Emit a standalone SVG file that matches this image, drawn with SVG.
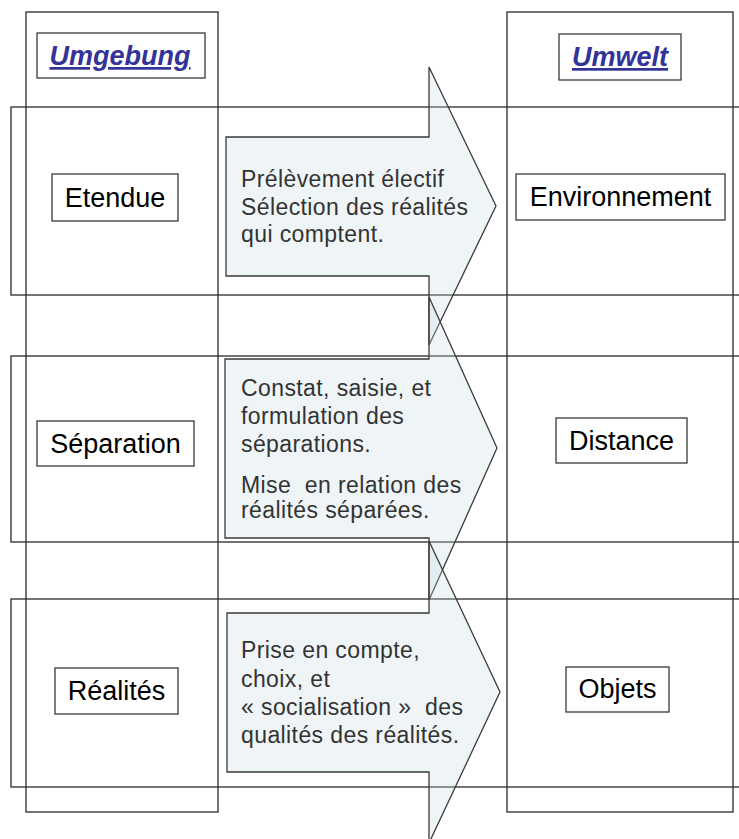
<svg xmlns="http://www.w3.org/2000/svg" width="739" height="839" viewBox="0 0 739 839">
<style>
.grid{fill:none;stroke:#2a2a2a;stroke-width:1.3}
.arrow{fill:#c4dae4;fill-opacity:0.28;stroke:#3a3a3a;stroke-width:1.3}
.box{fill:#fff;stroke:#3a3a3a;stroke-width:1.3}
.lbl{font-family:"Liberation Sans",Arial,sans-serif;font-size:27px;fill:#000;text-anchor:middle}
.head{font-family:"Liberation Sans",Arial,sans-serif;font-size:27px;font-weight:bold;font-style:italic;fill:#333399;text-anchor:middle;text-decoration:underline}
.txt{font-family:"Liberation Sans",Arial,sans-serif;font-size:23px;fill:#333;letter-spacing:0.4px;white-space:pre}
</style>
<rect width="739" height="839" fill="#fff"/>
<g id="grid">
  <rect class="grid" x="26" y="12" width="192" height="800"/>
  <rect class="grid" x="507" y="12" width="226" height="800"/>
  <rect class="grid" x="11" y="107" width="740" height="188"/>
  <rect class="grid" x="11" y="356" width="740" height="186"/>
  <rect class="grid" x="11" y="599" width="740" height="188"/>
</g>
<g id="connectors">
  <g id="arrow1">
    <path class="arrow" d="M226,137 H429 V67 L496,206 L429,345 V276 H226 Z"/>
    <text class="txt"><tspan x="241" y="187">Prélèvement électif</tspan><tspan x="241" y="215">Sélection des réalités</tspan><tspan x="241" y="242">qui comptent.</tspan></text>
  </g>
  <g id="arrow2">
    <path class="arrow" d="M225,359 H429 V297 L497,448 L429,600 V538 H225 Z"/>
    <text class="txt"><tspan x="241" y="396">Constat, saisie, et</tspan><tspan x="241" y="424">formulation des</tspan><tspan x="241" y="452">séparations.</tspan><tspan x="241" y="493">Mise  en relation des</tspan><tspan x="241" y="518">réalités séparées.</tspan></text>
  </g>
  <g id="arrow3">
    <path class="arrow" d="M227,613 H429 V541 L500,692 L429,843 V772 H227 Z"/>
    <text class="txt"><tspan x="241" y="658">Prise en compte,</tspan><tspan x="241" y="687">choix, et</tspan><tspan x="241" y="715">« socialisation »  des</tspan><tspan x="241" y="743">qualités des réalités.</tspan></text>
  </g>
</g>
<g id="umgebung">
  <rect class="box" x="37" y="33" width="168" height="45"/>
  <text class="head" x="120" y="65">Umgebung</text>
</g>
<g id="umwelt">
  <rect class="box" x="559" y="34" width="122" height="46"/>
  <text class="head" x="620" y="66">Umwelt</text>
</g>
<g id="etendue">
  <rect class="box" x="52" y="174" width="126" height="47"/>
  <text class="lbl" x="115" y="207">Etendue</text>
</g>
<g id="environnement">
  <rect class="box" x="516" y="174" width="209" height="46"/>
  <text class="lbl" x="620.5" y="206">Environnement</text>
</g>
<g id="separation">
  <rect class="box" x="37" y="421" width="157" height="45"/>
  <text class="lbl" x="115.5" y="453">Séparation</text>
</g>
<g id="distance">
  <rect class="box" x="556" y="418" width="131" height="45"/>
  <text class="lbl" x="621.5" y="450">Distance</text>
</g>
<g id="realites">
  <rect class="box" x="55" y="668" width="123" height="46"/>
  <text class="lbl" x="116.5" y="700">Réalités</text>
</g>
<g id="objets">
  <rect class="box" x="566" y="667" width="103" height="45"/>
  <text class="lbl" x="617.5" y="698">Objets</text>
</g>
</svg>
